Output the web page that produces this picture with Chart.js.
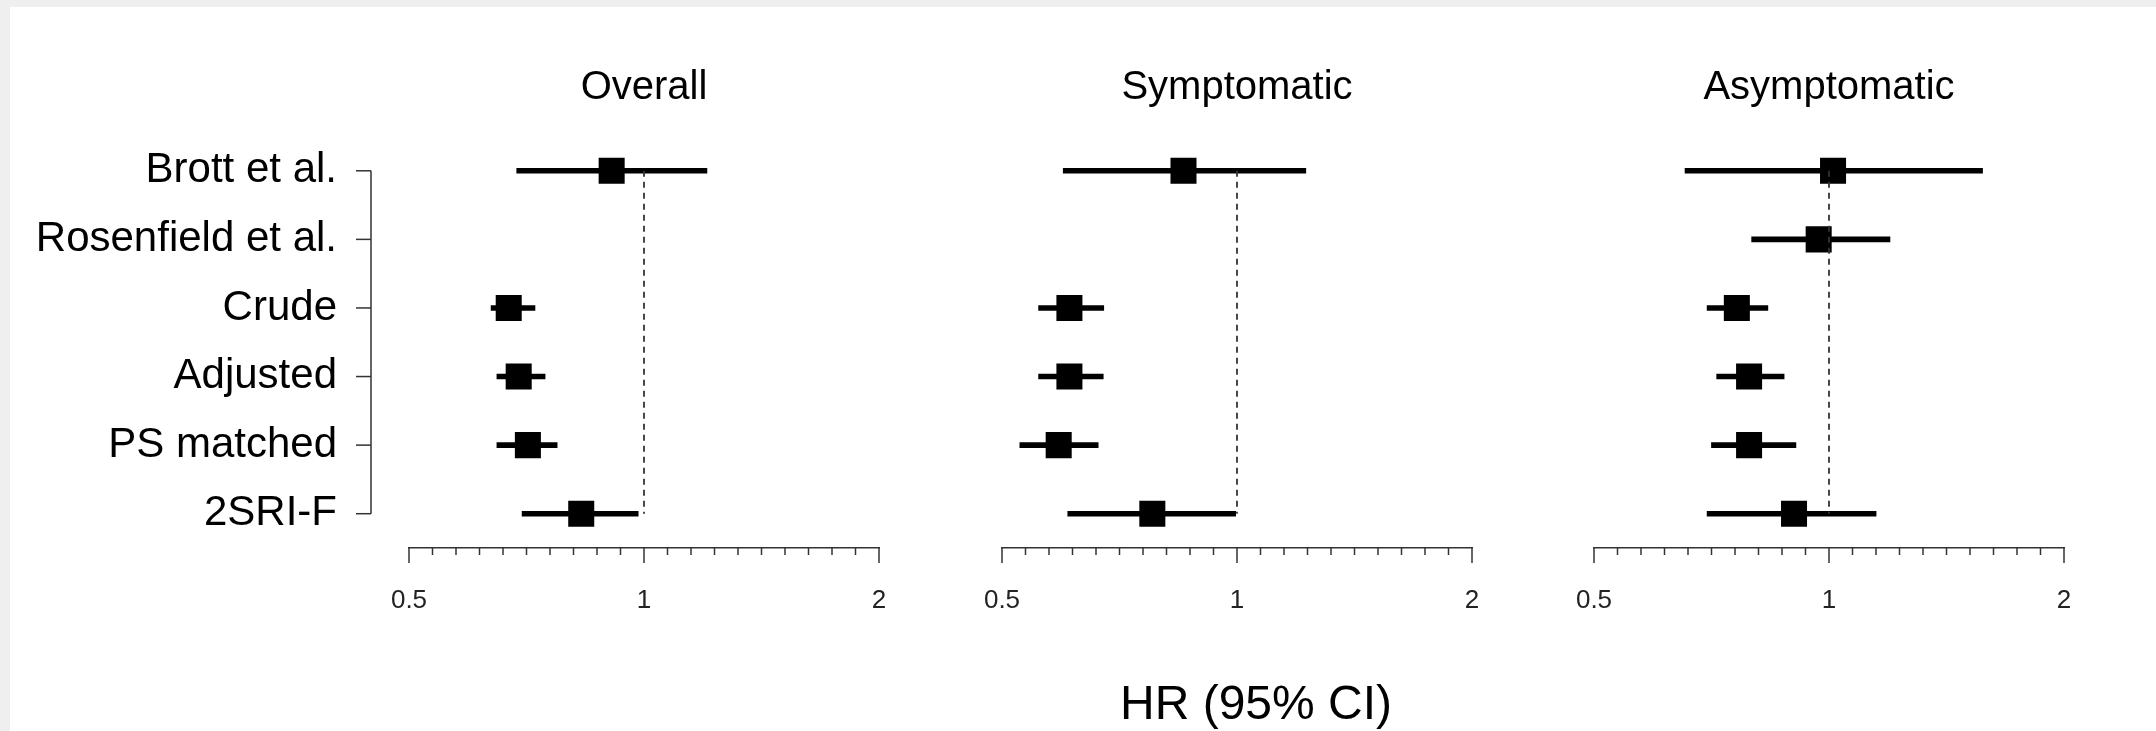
<!DOCTYPE html>
<html>
<head>
<meta charset="utf-8">
<title>HR forest plot</title>
<script src="https://cdn.jsdelivr.net/npm/chart.js@4.4.1/dist/chart.umd.min.js"></script>
<style>
    html, body { margin: 0; padding: 0; background: #efefef; }
    #page { position: relative; width: 2156px; height: 731px; overflow: hidden; }
    #sheet { position: absolute; left: 10px; top: 7px; right: 0; bottom: 0; background: #fff; }
    canvas { position: absolute; top: 0; }
</style>
</head>
<body>
<div id="page">
    <div id="sheet"></div>
    <canvas id="overallChart" width="960" height="731" style="left:0"></canvas>
    <canvas id="symptomaticChart" width="650" height="731" style="left:900px"></canvas>
    <canvas id="asymptomaticChart" width="656" height="731" style="left:1500px"></canvas>
</div>
<script>
// ======================= Data =======================
const studies = ["Brott et al.", "Rosenfield et al.", "Crude", "Adjusted", "PS matched", "2SRI-F"];
const panelTitles = ["Overall", "Symptomatic", "Asymptomatic"];
const axisTitle = "HR (95% CI)";
const majorTicks = [0.5, 1, 2];
const tickLabels = ["0.5", "1", "2"];
const minorPerOctave = 10;
const refValue = 1;

const overallHR    = [0.909, null, 0.671, 0.691, 0.710, 0.831];
const overallLower = [0.687, null, 0.637, 0.648, 0.648, 0.698];
const overallUpper = [1.204, null, 0.725, 0.747, 0.774, 0.983];

const symptomaticHR    = [0.854, null, 0.610, 0.610, 0.591, 0.779];
const symptomaticLower = [0.599, null, 0.557, 0.557, 0.527, 0.607];
const symptomaticUpper = [1.225, null, 0.675, 0.674, 0.664, 0.996];

const asymptomaticHR    = [1.012, 0.970, 0.762, 0.790, 0.790, 0.902];
const asymptomaticLower = [0.654, 0.796, 0.698, 0.718, 0.707, 0.698];
const asymptomaticUpper = [1.573, 1.197, 0.835, 0.876, 0.907, 1.149];

const fontFamily = "'Liberation Sans', Arial, sans-serif";
Chart.defaults.font.family = fontFamily;
Chart.defaults.animation = false;

function isMajor(v) {
    return majorTicks.some(m => Math.abs(m - v) < 1e-6);
}

// log axis ticks: 10 minor steps per doubling, like the R axis
function buildTicks(scale) {
    const ticks = [];
    for (let i = 0; i < majorTicks.length - 1; i++) {
        const ratio = majorTicks[i + 1] / majorTicks[i];
        for (let k = 0; k < minorPerOctave; k++) {
            ticks.push({ value: majorTicks[i] * Math.pow(ratio, k / minorPerOctave) });
        }
    }
    ticks.push({ value: majorTicks[majorTicks.length - 1] });
    scale.ticks = ticks;
}

// R style axis ticks (long majors, short minors), bracket y axis, shared x label
const axisTicksPlugin = {
    id: "axisTicks",
    afterDraw(chart, args, opts) {
        const ctx = chart.ctx;
        const xs = chart.scales.x;
        ctx.save();
        ctx.strokeStyle = "#333";
        ctx.lineWidth = 1.5;
        xs.ticks.forEach(t => {
            const px = xs.getPixelForValue(t.value);
            const len = isMajor(t.value) ? 15 : 7;
            ctx.beginPath();
            ctx.moveTo(px, xs.top);
            ctx.lineTo(px, xs.top + len);
            ctx.stroke();
        });
        if (opts.yAxis) {
            const ys = chart.scales.y;
            const x0 = chart.chartArea.left - 38;
            ctx.beginPath();
            ctx.moveTo(x0, ys.getPixelForValue(0));
            ctx.lineTo(x0, ys.getPixelForValue(studies.length - 1));
            ctx.stroke();
            studies.forEach((s, i) => {
                const py = ys.getPixelForValue(i);
                ctx.beginPath();
                ctx.moveTo(x0 - 15, py);
                ctx.lineTo(x0, py);
                ctx.stroke();
            });
        }
        if (opts.xTitle) {
            // outer x label sits a little right of the middle panel centre
            ctx.fillStyle = "#000";
            ctx.font = "48px " + fontFamily;
            ctx.textAlign = "center";
            ctx.textBaseline = "middle";
            ctx.fillText(axisTitle, (xs.left + xs.right) / 2 + 19, xs.bottom - 25);
        }
        ctx.restore();
    }
};

function makePanel(canvasId, title, hr, lower, upper, cfg) {
    return new Chart(document.getElementById(canvasId), {
        type: "bar",
        data: {
            labels: studies,
            datasets: [
                {
                    type: "line",
                    label: "HR = 1",
                    indexAxis: "y",
                    data: [{ x: refValue, y: studies[0] }, { x: refValue, y: studies[studies.length - 1] }],
                    borderColor: "#333",
                    borderWidth: 1.8,
                    borderDash: [6, 5],
                    pointRadius: 0,
                    order: 0
                },
                {
                    type: "line",
                    label: "HR",
                    indexAxis: "y",
                    data: hr,
                    showLine: false,
                    pointStyle: "rect",
                    pointRadius: 18.4,
                    pointBackgroundColor: "#000",
                    pointBorderWidth: 0,
                    order: 1
                },
                {
                    type: "bar",
                    label: "95% CI",
                    data: lower.map((lo, i) => (lo == null ? null : [lo, upper[i]])),
                    backgroundColor: "#000",
                    borderWidth: 0,
                    barThickness: 5,
                    order: 2
                }
            ]
        },
        options: {
            indexAxis: "y",
            responsive: false,
            events: [],
            layout: { padding: cfg.padding },
            plugins: {
                legend: { display: false },
                tooltip: { enabled: false },
                title: {
                    display: true,
                    text: title,
                    fullSize: false,
                    color: "#000",
                    font: { size: 40, weight: "normal" },
                    padding: { top: 0, bottom: 24.5 }
                },
                axisTicks: { yAxis: cfg.yAxis, xTitle: cfg.xTitle }
            },
            scales: {
                x: {
                    type: "logarithmic",
                    min: majorTicks[0],
                    max: majorTicks[majorTicks.length - 1],
                    afterBuildTicks: buildTicks,
                    afterFit: s => { s.height = 183; },
                    grid: { display: false, drawTicks: false },
                    border: { display: true, color: "#333", width: 1.5 },
                    ticks: {
                        autoSkip: false,
                        maxRotation: 0,
                        padding: 37,
                        color: "#222",
                        font: { size: 26 },
                        callback: value => {
                            const m = majorTicks.findIndex(t => Math.abs(t - value) < 1e-6);
                            return m >= 0 ? tickLabels[m] : "";
                        }
                    }
                },
                y: {
                    type: "category",
                    offset: true,
                    display: cfg.yAxis,
                    afterFit: s => { if (cfg.yAxis) s.width = 409; },
                    grid: { display: false, drawTicks: false },
                    border: { display: false },
                    ticks: {
                        autoSkip: false,
                        padding: 72,
                        color: "#000",
                        font: { size: 42 }
                    }
                }
            }
        },
        plugins: [axisTicksPlugin]
    });
}

makePanel("overallChart", panelTitles[0], overallHR, overallLower, overallUpper,
    { padding: { left: 0, right: 81, top: 64, bottom: 0 }, yAxis: true, xTitle: false });
makePanel("symptomaticChart", panelTitles[1], symptomaticHR, symptomaticLower, symptomaticUpper,
    { padding: { left: 102, right: 78, top: 64, bottom: 0 }, yAxis: false, xTitle: true });
makePanel("asymptomaticChart", panelTitles[2], asymptomaticHR, asymptomaticLower, asymptomaticUpper,
    { padding: { left: 94, right: 92, top: 64, bottom: 0 }, yAxis: false, xTitle: false });
</script>
</body>
</html>
